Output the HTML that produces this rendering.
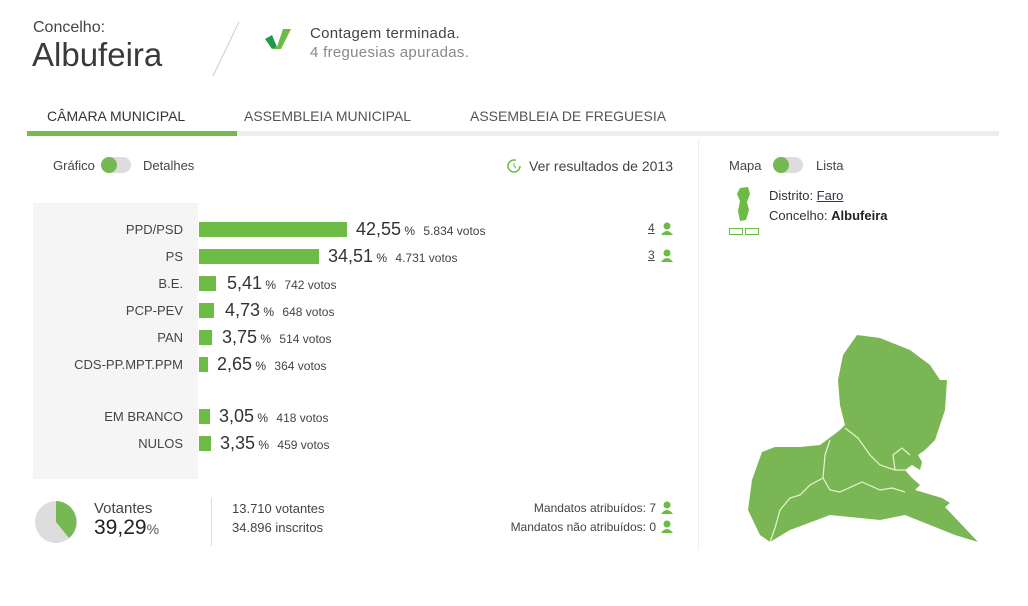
<!DOCTYPE html>
<html><head><meta charset="utf-8"><style>
*{margin:0;padding:0;box-sizing:border-box}
body{width:1028px;height:606px;background:#fff;font-family:"Liberation Sans",sans-serif;color:#333;position:relative;overflow:hidden}
.a{position:absolute;white-space:nowrap}
.lbl{position:absolute;right:845px;font-size:13px;color:#444;text-align:right}
.bar{position:absolute;left:199px;height:15px;background:#6cbb45}
.pct{position:absolute;font-size:18px;color:#333}
.pct small{font-size:12px}
.v{font-size:12px;color:#444}
.tog{position:absolute;width:30px;height:16px;border-radius:8px;background:#ddd}
.tog i{position:absolute;left:0;top:0;width:16px;height:16px;border-radius:8px;background:#76b852}
</style></head><body>
<div class="a" style="left:33px;top:19px;font-size:16px;color:#444">Concelho:</div>
<div class="a" style="left:32px;top:36px;font-size:33px;color:#3a3a3a">Albufeira</div>
<svg class="a" style="left:205px;top:20px" width="40" height="60"><line x1="34" y1="2" x2="8" y2="56" stroke="#ccc"/></svg>
<svg class="a" style="left:263px;top:27px" width="30" height="24"><polygon points="2,12 9,8 14,20 9,22" fill="#1f9a4a"/><polygon points="14,20 20,2 28,2 18,22 9,22" fill="#6cbb45"/></svg>
<div class="a" style="left:310px;top:25px;font-size:15px;color:#444;letter-spacing:0.3px">Contagem terminada.</div>
<div class="a" style="left:310px;top:44px;font-size:15px;color:#888;letter-spacing:0.3px">4 freguesias apuradas.</div>
<div class="a" style="left:47px;top:108px;font-size:14px;color:#333">CÂMARA MUNICIPAL</div>
<div class="a" style="left:244px;top:108px;font-size:14px;color:#555">ASSEMBLEIA MUNICIPAL</div>
<div class="a" style="left:470px;top:108px;font-size:14px;color:#555">ASSEMBLEIA DE FREGUESIA</div>
<div class="a" style="left:27px;top:131px;width:972px;height:5px;background:#eee"></div>
<div class="a" style="left:27px;top:131px;width:210px;height:5px;background:#76b852"></div>
<div class="a" style="left:53px;top:158px;font-size:13px;color:#444">Gráfico</div>
<div class="tog" style="left:101px;top:157px"><i></i></div>
<div class="a" style="left:143px;top:158px;font-size:13px;color:#444">Detalhes</div>
<svg class="a" style="left:506px;top:158px" width="16" height="16"><circle cx="8" cy="8" r="6" fill="none" stroke="#6cbb45" stroke-width="1.5" stroke-dasharray="30 8"/><path d="M8 5V8L10 10" stroke="#6cbb45" fill="none"/></svg>
<div class="a" style="left:529px;top:158px;font-size:14px;color:#444">Ver resultados de 2013</div>
<div class="a" style="left:698px;top:140px;width:1px;height:410px;background:#eee"></div>
<div class="a" style="left:33px;top:203px;width:165px;height:276px;background:#f5f5f5"></div>

<div class="lbl" style="top:222px">PPD/PSD</div><div class="bar" style="top:222px;width:148px"></div>
<div class="pct" style="left:356px;top:219px">42,55<small> %</small> <span class="v">&nbsp;5.834 votos</span></div>
<div class="lbl" style="top:249px">PS</div><div class="bar" style="top:249px;width:120px"></div>
<div class="pct" style="left:328px;top:246px">34,51<small> %</small> <span class="v">&nbsp;4.731 votos</span></div>
<div class="lbl" style="top:276px">B.E.</div><div class="bar" style="top:276px;width:17px"></div>
<div class="pct" style="left:227px;top:273px">5,41<small> %</small> <span class="v">&nbsp;742 votos</span></div>
<div class="lbl" style="top:303px">PCP-PEV</div><div class="bar" style="top:303px;width:15px"></div>
<div class="pct" style="left:225px;top:300px">4,73<small> %</small> <span class="v">&nbsp;648 votos</span></div>
<div class="lbl" style="top:330px">PAN</div><div class="bar" style="top:330px;width:13px"></div>
<div class="pct" style="left:222px;top:327px">3,75<small> %</small> <span class="v">&nbsp;514 votos</span></div>
<div class="lbl" style="top:357px">CDS-PP.MPT.PPM</div><div class="bar" style="top:357px;width:9px"></div>
<div class="pct" style="left:217px;top:354px">2,65<small> %</small> <span class="v">&nbsp;364 votos</span></div>
<div class="lbl" style="top:409px">EM BRANCO</div><div class="bar" style="top:409px;width:11px"></div>
<div class="pct" style="left:219px;top:406px">3,05<small> %</small> <span class="v">&nbsp;418 votos</span></div>
<div class="lbl" style="top:436px">NULOS</div><div class="bar" style="top:436px;width:12px"></div>
<div class="pct" style="left:220px;top:433px">3,35<small> %</small> <span class="v">&nbsp;459 votos</span></div>

<div class="a" style="left:648px;top:221px;font-size:12px;color:#445;text-decoration:underline">4</div>
<div class="a" style="left:648px;top:248px;font-size:12px;color:#445;text-decoration:underline">3</div>
<svg class="a" style="left:660px;top:222px" width="14" height="40"><g fill="#6cbb45"><circle cx="7" cy="4" r="3.5"/><path d="M1 13Q7 5 13 13Z"/><circle cx="7" cy="31" r="3.5"/><path d="M1 40Q7 32 13 40Z"/></g></svg>

<svg class="a" style="left:35px;top:501px" width="42" height="42"><circle cx="21" cy="21" r="21" fill="#ddd"/><path d="M21 21V0A21 21 0 0 1 34 37Z" fill="#76b852"/></svg>
<div class="a" style="left:94px;top:500px;font-size:15px;color:#444">Votantes</div>
<div class="a" style="left:94px;top:516px;font-size:21px;color:#222">39,29<span style="font-size:14px;color:#555">%</span></div>
<div class="a" style="left:211px;top:498px;width:1px;height:48px;background:#ddd"></div>
<div class="a" style="left:232px;top:501px;font-size:13px;color:#444">13.710 votantes</div>
<div class="a" style="left:232px;top:520px;font-size:13px;color:#444">34.896 inscritos</div>
<div class="a" style="right:372px;top:501px;font-size:12px;color:#444">Mandatos atribuídos: 7</div>
<div class="a" style="right:372px;top:520px;font-size:12px;color:#444">Mandatos não atribuídos: 0</div>
<svg class="a" style="left:660px;top:501px" width="14" height="34"><g fill="#6cbb45"><circle cx="7" cy="4" r="3.5"/><path d="M1 13Q7 5 13 13Z"/><circle cx="7" cy="23" r="3.5"/><path d="M1 32Q7 24 13 32Z"/></g></svg>

<div class="a" style="left:729px;top:158px;font-size:13px;color:#444">Mapa</div>
<div class="tog" style="left:773px;top:157px"><i></i></div>
<div class="a" style="left:816px;top:158px;font-size:13px;color:#444">Lista</div>
<svg class="a" style="left:728px;top:186px" width="34" height="52"><path d="M12 2L20 1 22 8 19 16 21 24 18 34 12 35 10 25 12 15 9 8Z" fill="#6cbb45"/><rect x="1.5" y="42.5" width="13" height="6" fill="none" stroke="#6cbb45"/><rect x="17.5" y="42.5" width="13" height="6" fill="none" stroke="#6cbb45"/></svg>
<div class="a" style="left:769px;top:188px;font-size:13px;color:#333">Distrito: <span style="text-decoration:underline;color:#335">Faro</span></div>
<div class="a" style="left:769px;top:208px;font-size:13px;color:#333">Concelho: <b style="color:#222">Albufeira</b></div>

<svg class="a" style="left:0;top:0" width="1028" height="606"><path d="M857 335L880 338 910 350 930 365 940 380 947 380 945 410 935 440 925 450 918 455 922 462 920 470 912 465 905 470 912 478 920 485 915 490 942 498 950 503 945 507 978 542 955 535 905 515 880 520 830 515 790 530 770 542 760 535 748 510 752 480 762 452 775 447 800 447 820 445 840 430 845 425 840 405 838 380 843 355Z" fill="#7ab654"/><g stroke="#e8f5d0" stroke-width="1.2" fill="none"><path d="M845 428L858 438 870 455 880 465 895 470 905 470"/><path d="M830 440L825 455 823 478 830 490 840 492 862 482 880 490 892 488 905 492"/><path d="M823 478L810 485 800 495 790 498 780 510 775 528 770 542"/><path d="M895 470L893 455 902 448 910 455"/></g></svg>
</body></html>
